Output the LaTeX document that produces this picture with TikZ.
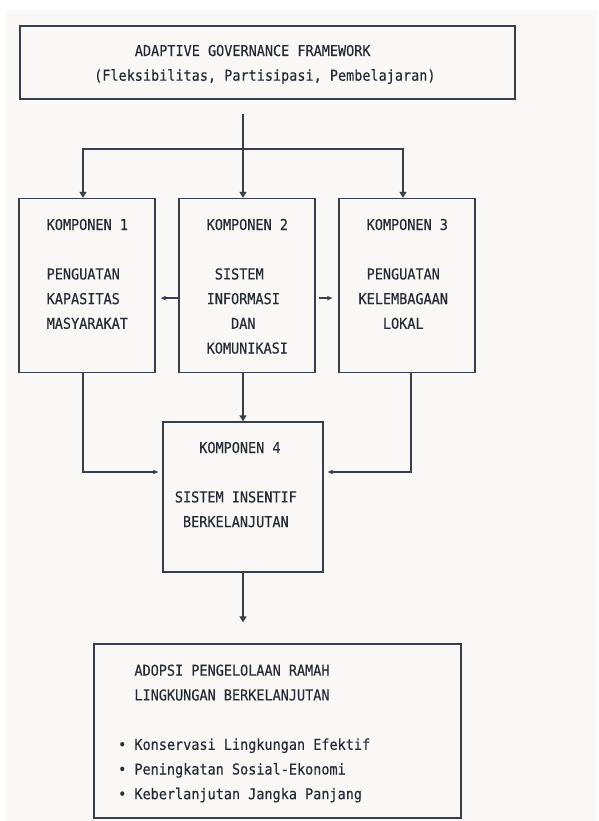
\documentclass[tikz,border=0pt]{standalone}
\usepackage{fontspec}
\newfontfamily\monofont[FakeStretch=0.9,FakeBold=0.35]{DejaVu Sans Mono}
\usetikzlibrary{arrows.meta}

\definecolor{latar}{HTML}{F9F8F6}
\definecolor{garis}{HTML}{383E4A}
\definecolor{tinta}{HTML}{262B36}

\tikzset{
  kotak/.style={draw=garis, line width=1.3pt, inner sep=0pt},
  teks/.style={font={\monofont\fontsize{15pt}{18pt}\selectfont}, text=tinta, inner sep=0pt, anchor=base west},
  panah/.style={draw=garis, line width=1.3pt, -{Triangle[width=7pt,length=6pt]}},
  panahkecil/.style={draw=garis, line width=1.3pt, -{Triangle[width=4pt,length=5pt]}},
}

\begin{document}
\begin{tikzpicture}[x=1pt,y=-1pt]
    \useasboundingbox (0,0) rectangle (598,821);
    \fill[latar] (6,10) rectangle (598,821);

    % Kotak-kotak
    \node[kotak, minimum width=495pt, minimum height=73pt] (atas) at (267.5,62.5) {};
    \node[kotak, minimum width=136pt, minimum height=174pt] (k1) at (87,285.5) {};
    \node[kotak, minimum width=136pt, minimum height=174pt] (k2) at (247,285.5) {};
    \node[kotak, minimum width=136pt, minimum height=174pt] (k3) at (407,285.5) {};
    \node[kotak, minimum width=160pt, minimum height=150pt] (k4) at (243,497) {};
    \node[kotak, minimum width=367pt, minimum height=174pt] (hasil) at (277.5,731) {};

    % Teks (kolom monospace, 8.13pt per huruf)
    \foreach \k/\b/\r in {5/ADAPTIVE GOVERNANCE FRAMEWORK/0, 0/{(Fleksibilitas, Partisipasi, Pembelajaran)}/1}
        \node[teks] (atas-\r) at ({94+(\k)*8.13},{56+\r*24.7}) {\b};
    \foreach \b/\r in {KOMPONEN 1/0, PENGUATAN/2, KAPASITAS/3, MASYARAKAT/4}
        \node[teks] (k1-\r) at (46.5,{230+\r*24.7}) {\b};
    \foreach \k/\b/\r in {0/KOMPONEN 2/0, 1/SISTEM/2, 0/INFORMASI/3, 3/DAN/4, 0/KOMUNIKASI/5}
        \node[teks] (k2-\r) at ({206.5+(\k)*8.13},{230+\r*24.7}) {\b};
    \foreach \k/\b/\r in {0/KOMPONEN 3/0, 0/PENGUATAN/2, -1/KELEMBAGAAN/3, 2/LOKAL/4}
        \node[teks] (k3-\r) at ({366.5+(\k)*8.13},{230+\r*24.7}) {\b};
    \foreach \k/\b/\r in {3/KOMPONEN 4/0, 0/SISTEM INSENTIF/2, 1/BERKELANJUTAN/3}
        \node[teks] (k4-\r) at ({174.7+(\k)*8.13},{453+\r*24.7}) {\b};
    \foreach \k/\b/\r in {2/ADOPSI PENGELOLAAN RAMAH/0, 2/LINGKUNGAN BERKELANJUTAN/1,
                          0/• Konservasi Lingkungan Efektif/3, 0/• Peningkatan Sosial-Ekonomi/4,
                          0/• Keberlanjutan Jangka Panjang/5}
        \node[teks] (hasil-\r) at ({118+(\k)*8.13},{675.7+\r*24.7}) {\b};

    % Dari kerangka ke tiga komponen
    \coordinate (cabang) at (243,149);
    \coordinate (cabang-kiri) at (83,149);
    \coordinate (cabang-kanan) at (403,149);
    \draw[panah, shorten <=14pt] (k4.north |- atas.south) -- (k4.north |- k2.north);
    \draw[panah] (cabang) -| (cabang-kiri |- k1.north);
    \draw[panah] (cabang) -| (cabang-kanan |- k3.north);

    % Antar komponen
    \draw[panahkecil, shorten >=5pt] ([yshift=-12.6pt]k2.west) -- ([yshift=-12.6pt]k1.east);
    \draw[panahkecil, shorten <=3pt, shorten >=6pt] ([yshift=-12.6pt]k2.east) -- ([yshift=-12.6pt]k3.west);

    % Ke komponen 4
    \draw[panahkecil, shorten >=4pt] (cabang-kiri |- k1.south) |- ([yshift=25pt]k4.west);
    \draw[panah] (k4.north |- k2.south) -- (k4.north);
    \draw[panahkecil, shorten >=4pt] ([xshift=4pt]k3.south) |- ([yshift=25pt]k4.east);

    % Ke hasil
    \draw[panah, shorten >=21pt] (k4.south) -- (k4.south |- hasil.north);
\end{tikzpicture}
\end{document}
